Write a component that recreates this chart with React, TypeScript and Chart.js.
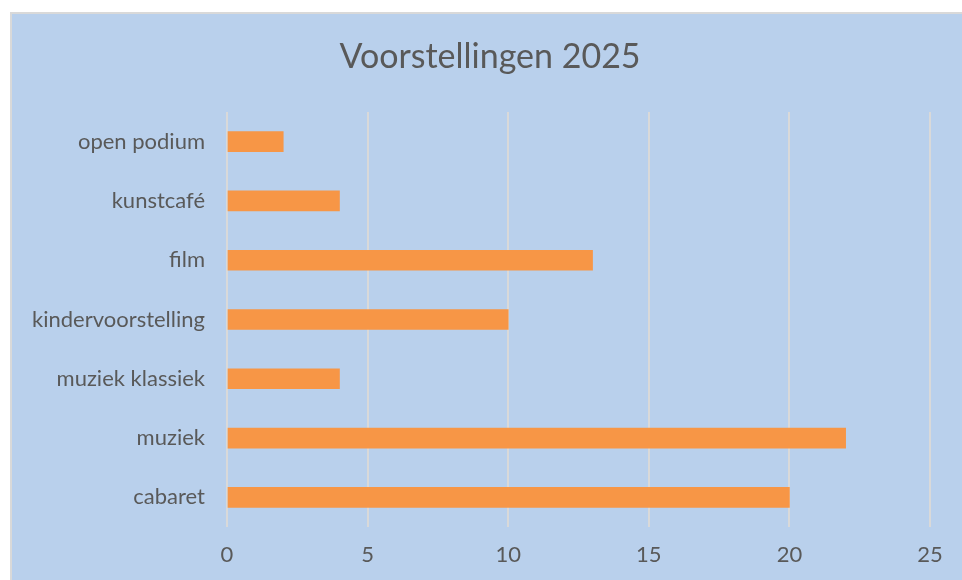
import React, { useEffect, useRef } from "react";
import { Chart, registerables } from "chart.js";

Chart.register(...registerables);

const categories = [
  "open podium",
  "kunstcafé",
  "film",
  "kindervoorstelling",
  "muziek klassiek",
  "muziek",
  "cabaret",
];
const values = [2, 4, 13, 10, 4, 22, 20];
const xTicks = [0, 5, 10, 15, 20, 25];
const titleText = "Voorstellingen 2025";

const FONT = "Lato, 'Open Sans', sans-serif";

const centeredTitle = {
  id: "centeredTitle",
  afterDraw(chart: any) {
    const ctx = chart.ctx;
    ctx.save();
    ctx.font = `normal 34px ${FONT}`;
    ctx.fillStyle = "#595959";
    ctx.textAlign = "center";
    ctx.textBaseline = "middle";
    ctx.fillText(titleText, 478, 43);
    ctx.restore();
  },
};

export default function App() {
  const ref = useRef<HTMLCanvasElement | null>(null);
  useEffect(() => {
    if (!ref.current) return;
    const chart = new Chart(ref.current, {
      type: "bar",
      data: {
        labels: categories,
        datasets: [
          {
            data: values,
            backgroundColor: "#F79646",
            borderWidth: 0,
            barThickness: 20,
          },
        ],
      },
      plugins: [centeredTitle],
      options: {
        indexAxis: "y",
        animation: false,
        responsive: false,
        maintainAspectRatio: false,
        layout: { padding: { left: 0, right: 32, top: 98, bottom: 0 } },
        plugins: {
          legend: { display: false },
          tooltip: { enabled: false },
          title: { display: false },
        },
        scales: {
          x: {
            min: 0,
            max: 25,
            afterBuildTicks: (axis: any) => {
              axis.ticks = xTicks.map((v) => ({ value: v }));
            },
            afterFit: (axis: any) => {
              axis.height = 53;
            },
            grid: { color: "#D9D9D9", lineWidth: 2, drawTicks: false },
            border: { display: false },
            ticks: {
              color: "#595959",
              font: { family: FONT, size: 22 },
              padding: 15,
            },
          },
          y: {
            afterFit: (axis: any) => {
              axis.width = 215;
            },
            grid: { display: false, drawTicks: false },
            border: { display: false },
            ticks: {
              color: "#595959",
              font: { family: FONT, size: 22 },
              padding: 22,
            },
          },
        },
      },
    });
    return () => chart.destroy();
  }, []);
  return (
    <div
      style={{
        position: "fixed",
        left: 10,
        top: 12,
        width: 960,
        height: 580,
        border: "2px solid #D9D9D9",
        background: "#B9D0EC",
        boxSizing: "border-box",
      }}
    >
      <canvas ref={ref} width={950} height={566} style={{ display: "block" }} />
    </div>
  );
}
